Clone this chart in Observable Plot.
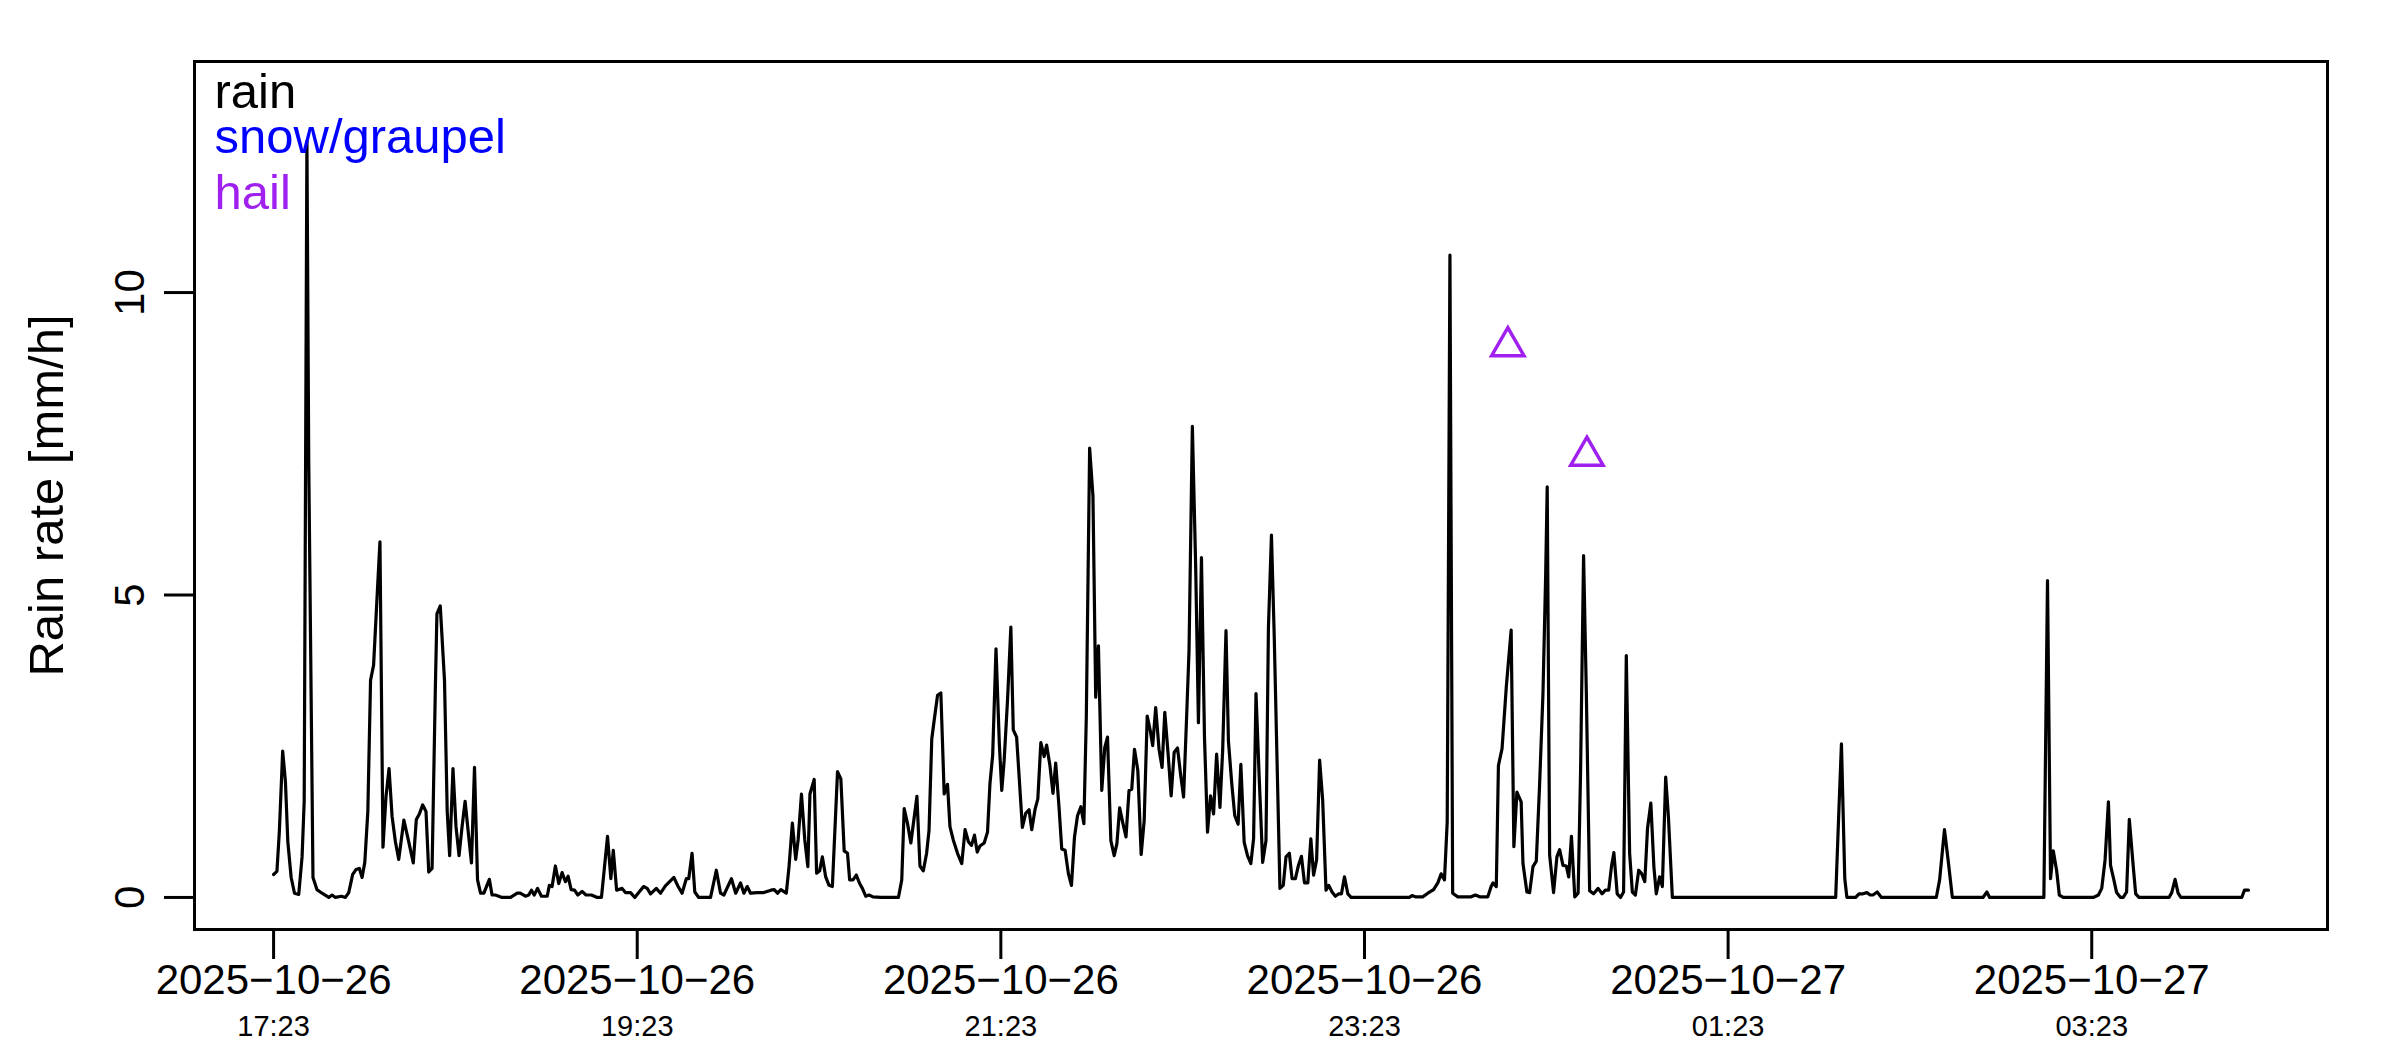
<!DOCTYPE html>
<html><head><meta charset="utf-8">
<script src="https://cdn.jsdelivr.net/npm/d3@7"></script>
<script src="https://cdn.jsdelivr.net/npm/@observablehq/plot@0.6"></script>
<style>html,body{margin:0;padding:0;background:#fff;overflow:hidden}</style>
</head><body><div id="chart"></div>
<script>
// minutes after 2025-10-26 17:23
const rainMinutes = [
0.0,1.1,1.9,3.0,3.9,4.7,5.8,6.9,8.3,9.4,10.1,11.0,11.6,13.0,14.3,16.0,18.2,19.3,20.4,22.4,23.7,24.8,26.1,27.2,28.3,29.2,30.1,31.1,32.0,33.0,34.1,35.1,36.1,37.1,38.1,39.1,40.2,41.3,43.0,44.6,46.1,47.1,48.1,49.2,50.3,51.2,52.3,53.4,53.9,55.0,56.4,57.3,58.1,59.2,60.2,61.2,62.2,63.2,64.4,65.3,66.3,67.3,68.3,69.4,71.2,72.1,73.2,75.4,78.2,80.4,
81.4,83.1,84.2,85.1,86.0,87.1,88.4,90.3,91.0,91.9,93.0,94.1,95.2,96.3,97.2,98.2,99.3,100.4,101.8,103.1,104.9,106.8,108.2,110.2,111.3,112.1,113.2,115.0,116.1,117.8,119.2,120.5,122.1,123.3,124.4,126.3,127.7,129.3,132.1,133.4,134.8,136.2,137.0,138.1,139.0,140.3,144.2,146.1,147.5,148.6,151.1,152.5,154.1,155.2,156.3,157.4,159.6,161.8,
164.1,165.2,166.3,167.4,169.2,170.1,171.2,172.3,173.1,174.2,175.3,176.3,177.0,178.4,179.2,180.2,181.1,182.2,183.3,184.4,186.1,187.2,188.3,189.4,190.1,191.2,192.3,193.4,194.3,195.4,196.5,197.8,200.4,206.2,207.3,208.1,209.2,210.3,212.3,213.3,214.4,215.5,216.3,217.2,218.0,219.1,220.2,221.3,222.4,223.2,224.3,225.7,227.1,228.2,229.3,230.3,231.3,232.2,233.1,234.5,235.6,236.4,237.3,238.4,239.5,240.3,241.1,242.2,243.3,244.1,245.2,
247.1,248.2,249.3,250.2,251.3,252.2,253.2,254.3,255.1,256.2,257.2,258.1,259.2,260.1,261.2,262.3,263.3,264.3,265.3,266.4,267.4,268.2,269.3,270.4,271.3,272.2,273.3,274.3,275.2,276.3,277.4,278.3,279.2,280.3,281.3,282.3,283.2,284.1,285.2,286.3,287.3,288.3,289.3,290.1,291.1,292.2,293.2,294.1,295.2,296.2,297.2,298.3,299.3,300.3,301.3,302.1,303.2,304.3,305.2,306.2,307.2,308.2,309.2,310.2,311.2,312.3,313.2,314.3,315.1,316.2,317.2,318.3,319.2,320.3,321.4,322.5,323.4,324.2,325.3,326.4,327.5,328.3,329.3,330.2,
332.1,333.2,334.1,335.2,336.1,337.2,338.2,339.2,340.2,341.3,342.3,343.2,344.2,345.2,346.2,347.3,348.2,349.3,350.4,351.5,352.4,353.4,354.5,355.6,374.8,375.7,376.8,379.2,380.9,382.8,384.2,385.3,386.4,387.3,388.2,389.1,390.8,395.2,396.6,398.0,400.7,401.8,402.4,403.5,404.2,405.4,406.8,408.4,409.3,410.3,411.7,412.3,413.6,414.5,415.6,416.7,
417.8,418.9,419.8,420.3,421.1,422.4,423.5,424.4,425.5,426.6,427.4,428.3,429.4,430.5,431.3,432.3,433.2,434.3,435.6,437.1,438.4,439.5,440.6,441.5,442.3,443.4,444.5,445.5,446.4,447.5,448.4,449.4,450.5,451.4,452.5,453.4,454.5,455.5,456.3,457.4,458.3,459.4,460.3,461.6,
515.5,516.6,517.4,518.5,519.2,522.1,523.2,524.5,525.8,526.9,527.8,529.2,530.6,548.7,549.8,551.4,552.6,554.0,564.1,565.4,566.3,584.2,585.4,586.4,587.3,588.4,589.3,590.6,
600.5,602.2,603.3,604.4,605.5,606.2,607.3,608.2,609.5,610.4,611.5,612.4,613.7,614.5,615.6,625.5,626.4,627.5,628.5,629.4,649.5,650.4,651.7
];
const rainValues = [
0.38,0.43,1.09,2.42,1.92,0.92,0.33,0.07,0.05,0.67,1.59,12.5,7.2,0.33,0.13,0.07,0.0,0.04,0.0,0.02,0.0,0.08,0.38,0.46,0.48,0.33,0.58,1.42,3.59,3.84,4.92,5.88,0.83,1.67,2.13,1.34,0.92,0.63,1.28,0.92,0.57,1.29,1.38,1.53,1.42,0.42,0.48,3.51,4.69,4.82,3.59,1.42,0.69,2.13,1.17,0.69,1.17,1.59,1.0,0.57,2.15,0.29,0.07,0.07,0.3,0.04,0.04,0.0,0.0,0.07,
0.07,0.02,0.04,0.12,0.04,0.15,0.02,0.02,0.2,0.18,0.52,0.23,0.41,0.26,0.35,0.13,0.12,0.04,0.1,0.04,0.04,0,0,1.01,0.31,0.78,0.12,0.15,0.08,0.08,0,0.08,0.18,0.15,0.06,0.15,0.07,0.19,0.33,0.19,0.07,0.31,0.31,0.73,0.09,0,0,0.45,0.07,0.04,0.31,0.07,0.24,0.07,0.18,0.07,0.08,0.08,
0.12,0.13,0.07,0.13,0.07,0.51,1.23,0.63,0.95,1.71,0.95,0.51,1.71,1.95,0.4,0.44,0.67,0.34,0.2,0.18,2.08,1.96,0.77,0.73,0.29,0.29,0.37,0.23,0.15,0.02,0.04,0.01,0,0,0.29,1.47,1.22,0.9,1.67,0.52,0.44,0.73,1.11,2.62,2.93,3.34,3.38,1.71,1.87,1.17,0.95,0.73,0.56,1.12,0.92,0.86,1.03,0.75,0.85,0.9,1.08,1.88,2.35,4.11,2.54,1.77,2.27,3.26,4.47,2.77,2.65,
1.16,1.39,1.45,1.12,1.46,1.63,2.56,2.33,2.52,2.18,1.72,2.22,1.49,0.8,0.78,0.39,0.2,1.0,1.35,1.5,1.22,2.98,7.43,6.63,3.31,4.16,1.77,2.48,2.65,0.94,0.69,0.89,1.48,1.22,1.0,1.77,1.79,2.45,2.1,0.71,1.27,3.0,2.76,2.51,3.14,2.45,2.15,3.06,2.37,1.68,2.4,2.47,2.04,1.66,2.98,4.08,7.79,5.45,2.89,5.62,2.65,1.08,1.68,1.38,2.37,1.49,2.43,4.41,2.59,1.88,1.35,1.21,2.2,0.91,0.69,0.56,0.97,3.37,1.93,0.58,0.94,4.46,5.99,4.35,
0.15,0.2,0.67,0.73,0.31,0.31,0.53,0.68,0.24,0.24,0.97,0.37,0.62,2.27,1.61,0.12,0.2,0.09,0.02,0.06,0.06,0.34,0.06,0,0,0.03,0.01,0.01,0.07,0.13,0.24,0.39,0.29,1.25,10.62,0.07,0.01,0.01,0.04,0.01,0.01,0.18,0.24,0.18,2.18,2.46,3.48,4.42,0.84,1.74,1.58,0.56,0.09,0.08,0.51,0.6,
1.88,3.37,5.35,6.79,0.7,0.08,0.67,0.79,0.53,0.52,0.34,1.01,0.01,0.07,2.05,5.65,3.42,0.11,0.06,0.15,0.06,0.12,0.12,0.51,0.74,0.06,0,0.09,4.0,0.73,0.09,0.04,0.45,0.4,0.26,1.14,1.56,0.51,0.06,0.34,0.18,1.99,1.33,0,
0,1.5,2.54,0.31,0,0,0.06,0.06,0.08,0.04,0.04,0.09,0,0,0.29,1.12,0.62,0,0,0.09,0,0,5.24,0.31,0.77,0.45,0.04,0,
0,0.04,0.15,0.62,1.58,0.53,0.29,0.08,0,0,0.09,1.29,0.51,0.06,0,0,0.08,0.3,0.07,0,0,0.12,0.12
];
const hailMinutes = [407.3, 433.4];
const hailValues = [9.11, 7.30];
const snowMinutes = [];
const snowValues = [];

const tickMinutes = [0, 120, 240, 360, 480, 600];
const tickDates = ["2025−10−26", "2025−10−26", "2025−10−26", "2025−10−26", "2025−10−27", "2025−10−27"];
const tickTimes = ["17:23", "19:23", "21:23", "23:23", "01:23", "03:23"];
const yTicks = [0, 5, 10];
const yLabel = "Rain rate [mm/h]";
const legendLabels = ["rain", "snow/graupel", "hail"];
const legendColors = ["black", "blue", "#A020F0"];

const rain = rainMinutes.map((t, i) => ({t, v: rainValues[i]}));
const hail = hailMinutes.map((t, i) => ({t, v: hailValues[i]}));
const snow = snowMinutes.map((t, i) => ({t, v: snowValues[i]}));
const legendDy = [46, 91, 147];

const chart = Plot.plot({
  width: 2400, height: 1050,
  marginLeft: 194, marginRight: 73, marginTop: 61, marginBottom: 121,
  style: {fontFamily: "'Liberation Sans', Arial, Helvetica, sans-serif", background: "white", color: "black"},
  x: {domain: [-26.1, 677.8], axis: null, label: null},
  y: {domain: [-0.53, 13.82], axis: null, label: null},
  marks: [
    Plot.frame({stroke: "black", strokeWidth: 3}),
    Plot.axisX(tickMinutes, {tickSize: 30, strokeWidth: 3, tickPadding: 4.3, fontSize: 42, label: null,
      tickFormat: d => tickDates[tickMinutes.indexOf(d)]}),
    Plot.axisX(tickMinutes, {tickSize: 0, tickPadding: 86.4, fontSize: 29, label: null,
      tickFormat: d => tickTimes[tickMinutes.indexOf(d)]}),
    Plot.axisY(yTicks, {tickSize: 30, strokeWidth: 3, label: null, tickFormat: () => ""}),
    Plot.text(yTicks, {y: d => d, text: d => String(d), frameAnchor: "left", dx: -51, rotate: -90,
      textAnchor: "middle", lineAnchor: "bottom", fontSize: 42, fill: "black"}),
    Plot.text([yLabel], {text: d => d, frameAnchor: "left", dx: -132, rotate: -90,
      textAnchor: "middle", lineAnchor: "bottom", fontSize: 49, fill: "black"}),
    Plot.line(snow, {x: "t", y: "v", stroke: "blue", strokeWidth: 3.2}),
    Plot.line(rain, {x: "t", y: "v", stroke: "black", strokeWidth: 3.2, strokeLinejoin: "round"}),
    Plot.dot(hail, {x: "t", y: "v", symbol: "triangle", r: 12, stroke: "#A020F0", strokeWidth: 3.5, fill: "none"}),
    ...legendLabels.map((l, i) => Plot.text([l], {text: d => d, frameAnchor: "top-left", dx: 20, dy: legendDy[i],
      textAnchor: "start", lineAnchor: "bottom", fontSize: 49, fill: legendColors[i]}))
  ]
});
document.getElementById("chart").appendChild(chart);
</script>
</body></html>
